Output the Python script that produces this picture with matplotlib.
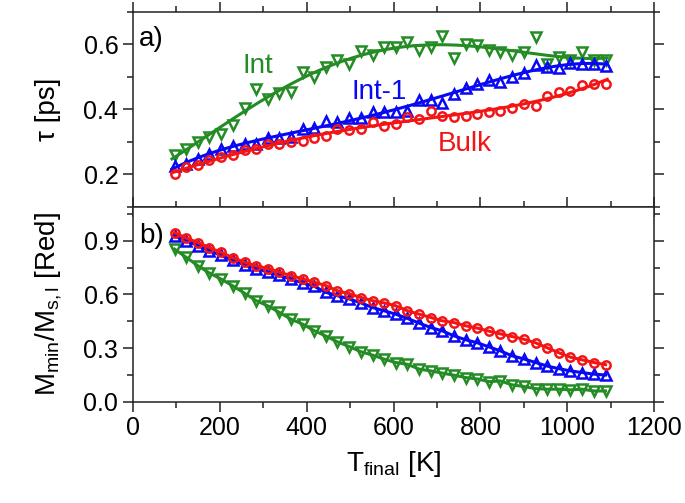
import numpy as np
import matplotlib
matplotlib.use("Agg")
import matplotlib.pyplot as plt
from matplotlib.ticker import MultipleLocator

# ---------- data ----------

t_final = [96, 123, 150, 176, 203, 230, 257, 284, 310, 337,
           364, 391, 418, 444, 471, 498, 525, 552, 578, 605,
           632, 659, 686, 712, 739, 766, 793, 820, 846, 873,
           900, 927, 954, 980, 1007, 1034, 1061, 1088]

# a) relaxation time tau [ps]
tau_int = [0.26, 0.278, 0.30, 0.315, 0.325, 0.352, 0.405, 0.463, 0.432, 0.45,
           0.454, 0.515, 0.50, 0.53, 0.552, 0.54, 0.58, 0.565, 0.592, 0.592,
           0.605, 0.583, 0.592, 0.626, 0.558, 0.60, 0.597, 0.583, 0.577, 0.565,
           0.577, 0.623, 0.54, 0.56, 0.55, 0.575, 0.552, 0.55]
tau_int1 = [0.226, 0.232, 0.248, 0.263, 0.278, 0.288, 0.294, 0.294, 0.312, 0.312,
            0.315, 0.34, 0.343, 0.363, 0.36, 0.373, 0.373, 0.39, 0.392, 0.392,
            0.395, 0.428, 0.428, 0.42, 0.448, 0.466, 0.478, 0.49, 0.482, 0.50,
            0.512, 0.537, 0.531, 0.527, 0.543, 0.54, 0.54, 0.534]
tau_bulk = [0.201, 0.222, 0.229, 0.244, 0.253, 0.259, 0.275, 0.278, 0.293, 0.293,
            0.30, 0.303, 0.312, 0.318, 0.339, 0.336, 0.339, 0.36, 0.348, 0.355,
            0.376, 0.37, 0.395, 0.38, 0.376, 0.38, 0.385, 0.392, 0.395, 0.404,
            0.416, 0.41, 0.44, 0.453, 0.456, 0.474, 0.478, 0.476]

# b) M_min / M_s,l
m_int = [0.853, 0.807, 0.76, 0.72, 0.686, 0.648, 0.607, 0.565, 0.537, 0.50,
         0.462, 0.434, 0.397, 0.368, 0.335, 0.309, 0.28, 0.261, 0.239, 0.22,
         0.21, 0.183, 0.173, 0.161, 0.149, 0.136, 0.128, 0.113, 0.117, 0.095,
         0.086, 0.074, 0.071, 0.071, 0.067, 0.071, 0.061, 0.061]
m_int1 = [0.928, 0.90, 0.873, 0.845, 0.818, 0.79, 0.765, 0.745, 0.725, 0.707,
          0.685, 0.665, 0.645, 0.612, 0.593, 0.575, 0.553, 0.527, 0.509, 0.49,
          0.466, 0.44, 0.415, 0.397, 0.369, 0.347, 0.33, 0.307, 0.285, 0.257,
          0.24, 0.22, 0.20, 0.186, 0.173, 0.164, 0.155, 0.15]
m_bulk = [0.945, 0.915, 0.89, 0.862, 0.835, 0.805, 0.78, 0.76, 0.745, 0.725,
          0.705, 0.687, 0.668, 0.65, 0.62, 0.604, 0.583, 0.565, 0.553, 0.537,
          0.509, 0.49, 0.471, 0.453, 0.443, 0.425, 0.412, 0.395, 0.38, 0.365,
          0.35, 0.33, 0.302, 0.275, 0.25, 0.235, 0.22, 0.208]

GREEN = "#248c24"
BLUE = "#0808f4"
RED = "#f41414"

plt.rcParams["font.family"] = ["Liberation Sans", "DejaVu Sans"]
plt.rcParams["mathtext.fontset"] = "custom"
plt.rcParams["mathtext.rm"] = "Liberation Sans"
plt.rcParams["mathtext.it"] = "Liberation Sans"


def style_axis(ax):
    for sp in ax.spines.values():
        sp.set_linewidth(1.1)
        sp.set_color("#222222")
    ax.tick_params(which="both", direction="out", top=True, right=True,
                   width=1.1, color="#222222", labelsize=18)
    ax.tick_params(which="major", length=7)
    ax.tick_params(which="minor", length=4)
    ax.xaxis.set_major_locator(MultipleLocator(200))
    ax.xaxis.set_minor_locator(MultipleLocator(100))
    ax.set_xlim(0, 1200)


fig = plt.figure(figsize=(6.85, 5.03), dpi=100)
ax1 = fig.add_axes([0.194, 0.589, 0.761, 0.388])
ax2 = fig.add_axes([0.194, 0.201, 0.761, 0.388])

x = np.array(t_final, dtype=float)
xs = np.linspace(x[0] - 6, x[-1] + 4, 200)

# ---------- panel a ----------
series_a = [
    (tau_int, GREEN, "v"),
    (tau_int1, BLUE, "^"),
    (tau_bulk, RED, "o"),
]
for vals, col, mk in series_a:
    coef = np.polyfit(x / 1000.0, vals, 4)
    ax1.plot(xs, np.polyval(coef, xs / 1000.0), color=col, lw=2.2)
    ax1.plot(x, vals, linestyle="none", marker=mk, ms=7 if mk != "o" else 6,
             mfc="none", mec=col, mew=1.8)

ax1.set_ylim(0.1, 0.7)
ax1.yaxis.set_major_locator(MultipleLocator(0.2))
ax1.yaxis.set_minor_locator(MultipleLocator(0.1))
style_axis(ax1)
ax1.tick_params(labelbottom=False)
ax1.set_ylabel("τ [ps]", fontsize=20, labelpad=16)

ax1.text(0.012, 0.86, "a)", transform=ax1.transAxes, fontsize=20, va="center")
ax1.text(288, 0.533, "Int", color=GREEN, fontsize=20, ha="center", va="center")
ax1.text(567, 0.453, "Int-1", color=BLUE, fontsize=20, ha="center", va="center")
ax1.text(765, 0.293, "Bulk", color=RED, fontsize=20, ha="center", va="center")

# ---------- panel b ----------
series_b = [
    (m_int, GREEN, "v"),
    (m_int1, BLUE, "^"),
    (m_bulk, RED, "o"),
]
for vals, col, mk in series_b:
    ax2.plot(x, vals, color=col, lw=2.2, marker=mk, ms=7 if mk != "o" else 6,
             mfc="none", mec=col, mew=1.8)

ax2.set_ylim(0.0, 1.09)
ax2.yaxis.set_major_locator(MultipleLocator(0.3))
ax2.yaxis.set_minor_locator(MultipleLocator(0.15))
style_axis(ax2)
ax2.set_ylabel(r"$\mathrm{M_{min}/M_{s,l}}$ [Red]", fontsize=20, labelpad=14)
ax2.set_xlabel(r"$\mathrm{T_{final}}$ [K]", fontsize=20, labelpad=6)
ax2.text(0.012, 0.85, "b)", transform=ax2.transAxes, fontsize=20, va="center")

fig.savefig("out.png", dpi=100)
